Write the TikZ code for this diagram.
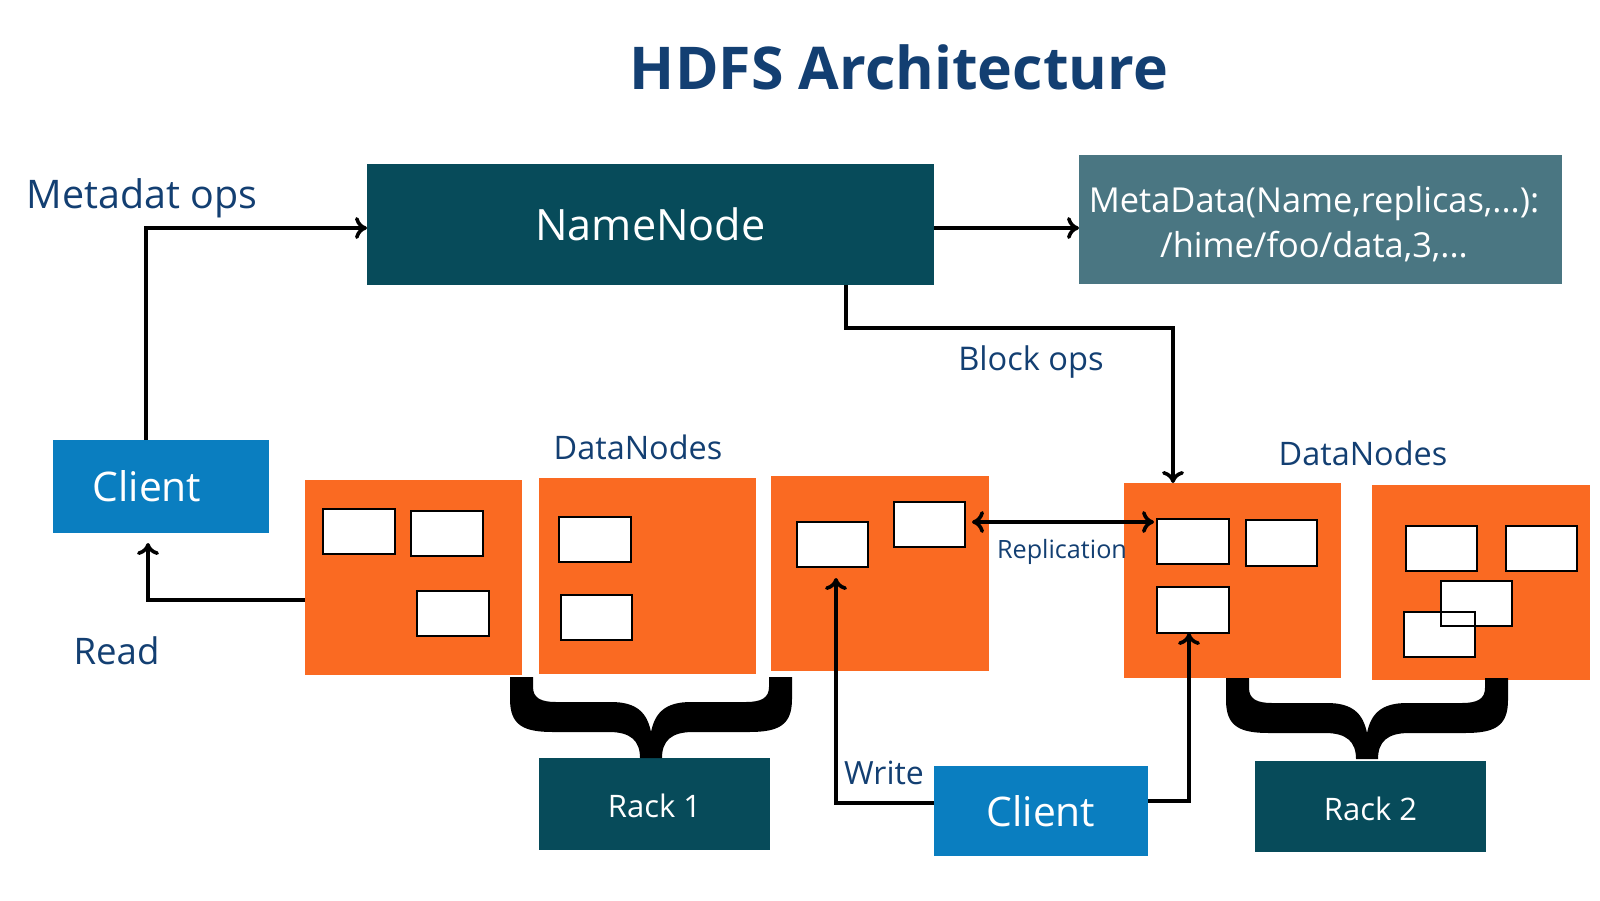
\documentclass[tikz,border=0pt]{standalone}
\usepackage{fontspec}
\setmainfont{Open Sans}
\usetikzlibrary{arrows.meta,fit}
\definecolor{tblue}{HTML}{133F72}
\definecolor{nnteal}{HTML}{074B5A}
\definecolor{mdteal}{HTML}{4A7682}
\definecolor{cblue}{HTML}{0A7EC0}
\definecolor{dnorange}{HTML}{FA6A22}
\begin{document}
\begin{tikzpicture}[x=0.5pt,y=-0.5pt,
  every node/.style={inner sep=0pt, outer sep=0pt},
  darkbox/.style={fill=nnteal},
  metabox/.style={fill=mdteal},
  clientbox/.style={fill=cblue},
  intext/.style={text=white, align=center},
  dnbox/.style={fill=dnorange},
  blk/.style={fill=white},
  blkline/.style={draw=black, line width=1pt},
  conn/.style={draw=black, line width=1.8pt, -{To[length=6pt,width=11pt]}},
  dconn/.style={draw=black, line width=1.8pt, {To[length=6pt,width=11pt]}-{To[length=6pt,width=11pt]}},
  lbl/.style={text=tblue, anchor=base},
  bracefill/.style={fill=black}
]
\useasboundingbox[fill=white] (0,0) rectangle (1600,900);

% title
\node[lbl, font=\fontsize{29.5}{34}\selectfont\bfseries] (title) at (899,89) {HDFS Architecture};

% main boxes
\node[darkbox, fit={(367,164) (934,285)}] (nn) {};
\node[intext, font=\fontsize{21.6}{26}\selectfont] (nnt) at (nn.center) {NameNode};
\node[metabox, fit={(1079,155) (1562,284)}] (md) {};
\node[intext, font=\fontsize{17.2}{22.5}\selectfont] (mdt) at (1314,224) {MetaData(Name,replicas,...):\\/hime/foo/data,3,...};
\node[clientbox, fit={(53,440) (269,533)}] (cl) {};
\node[intext, font=\fontsize{20.4}{24}\selectfont] (clt) at ([xshift=-7pt]cl.center) {Client};
\node[clientbox, fit={(934,766) (1148,856)}] (cb) {};
\node[intext, font=\fontsize{20.4}{24}\selectfont] (cbt) at (cb.center) {Client};
\node[darkbox, fit={(539,758) (770,850)}] (r1) {};
\node[intext, font=\fontsize{15.5}{19}\selectfont] (r1t) at ([yshift=-1pt]r1.center) {Rack 1};
\node[darkbox, fit={(1255,761) (1486,852)}] (r2) {};
\node[intext, font=\fontsize{15.5}{19}\selectfont] (r2t) at ([yshift=-1pt]r2.center) {Rack 2};

% datanodes
\node[dnbox, fit={(305,480) (522,675)}] (dn1) {};
\node[dnbox, fit={(539,478) (756,674)}] (dn2) {};
\node[dnbox, fit={(771,476) (989,671)}] (dn3) {};
\node[dnbox, fit={(1124,483) (1341,678)}] (dn4) {};
\node[dnbox, fit={(1372,485) (1590,680)}] (dn5) {};

% blocks
\node[blk, fit={(323,509) (395,554)}] (b1a) {};
\node[blk, fit={(411,511) (483,556)}] (b1b) {};
\node[blk, fit={(417,591) (489,636)}] (b1c) {};
\node[blk, fit={(559,517) (631,562)}] (b2a) {};
\node[blk, fit={(561,595) (632,640)}] (b2b) {};
\node[blk, fit={(797,522) (868,567)}] (b3a) {};
\node[blk, fit={(894,502) (965,547)}] (b3b) {};
\node[blk, fit={(1157,519) (1229,564)}] (b4a) {};
\node[blk, fit={(1246,520) (1317,566)}] (b4b) {};
\node[blk, fit={(1157,587) (1229,633)}] (b4c) {};
\node[blk, fit={(1406,526) (1477,571)}] (b5a) {};
\node[blk, fit={(1506,526) (1577,571)}] (b5b) {};
\node[blk, fit={(1441,581) (1512,626)}] (b5c) {};
\node[blk, fit={(1404,612) (1475,657)}] (b5d) {};
\foreach \n in {b1a,b1b,b1c,b2a,b2b,b3a,b3b,b4a,b4b,b4c,b5a,b5b,b5c,b5d}
  \draw[blkline] (\n.south west) rectangle (\n.north east);

% braces
\foreach \cx/\ty in {651/677, 1367/678}{
\begin{scope}[shift={(\cx,\ty)}]
\fill[bracefill] (-141,0) -- (-141,22) .. controls (-141,48) and (-128,55) .. (-98,55)
  -- (-42,55) .. controls (-20,55) and (-11,64) .. (-11,81) -- (11,81)
  .. controls (11,64) and (20,55) .. (42,55) -- (98,55)
  .. controls (128,55) and (141,48) .. (141,22) -- (141,0) -- (118,0) -- (118,10)
  .. controls (118,21) and (110,25) .. (95,25) -- (40,25)
  .. controls (15,25) and (4,35) .. (0,55)
  .. controls (-4,35) and (-15,25) .. (-40,25) -- (-95,25)
  .. controls (-110,25) and (-118,21) .. (-118,10) -- (-118,0) -- cycle;
\end{scope}}

% labels
\node[lbl, font=\fontsize{19.7}{24}\selectfont] (lmo) at (142,208) {Metadat ops};
\node[lbl, font=\fontsize{16.3}{20}\selectfont] (lbo) at (1031,370) {Block ops};
\node[lbl, font=\fontsize{16.2}{20}\selectfont] (ldn1) at (638,459) {DataNodes};
\node[lbl, font=\fontsize{16.2}{20}\selectfont] (ldn2) at (1363,465) {DataNodes};
\node[lbl, font=\fontsize{18.3}{22}\selectfont] (lrd) at (116.5,664) {Read};
\node[lbl, font=\fontsize{16}{20}\selectfont] (lwr) at (884,784) {Write};
\node[lbl, font=\fontsize{12.6}{16}\selectfont] (lrep) at (1062,558) {Replication};

% connectors
\coordinate (mo) at (146,228);
\draw[conn] (cl.north -| mo) -- (mo) -- (nn.west |- mo);
\draw[conn] (nn.east |- mo) -- (md.west |- mo);
\coordinate (bo1) at (846,328);
\coordinate (bo2) at (1173,328);
\draw[conn] (nn.south -| bo1) -- (bo1) -- (bo2) -- (dn4.north -| bo2);
\coordinate (rd) at (148,600);
\coordinate (rdend) at (148,543);
\draw[conn] (dn1.west |- rd) -- (rd) -- (rdend);
\coordinate (rep) at (0,522);
\draw[dconn] ([xshift=3.5pt]b3b.east |- rep) -- ([xshift=-1.5pt]b4a.west |- rep);
\coordinate (wr) at (836,803);
\coordinate (wrend) at (836,578);
\draw[conn] (cb.west |- wr) -- (wr) -- (wrend);
\coordinate (wr2) at (1189,801);
\draw[conn] (cb.east |- wr2) -- (wr2) -- (b4c.south -| wr2);
\end{tikzpicture}
\end{document}
